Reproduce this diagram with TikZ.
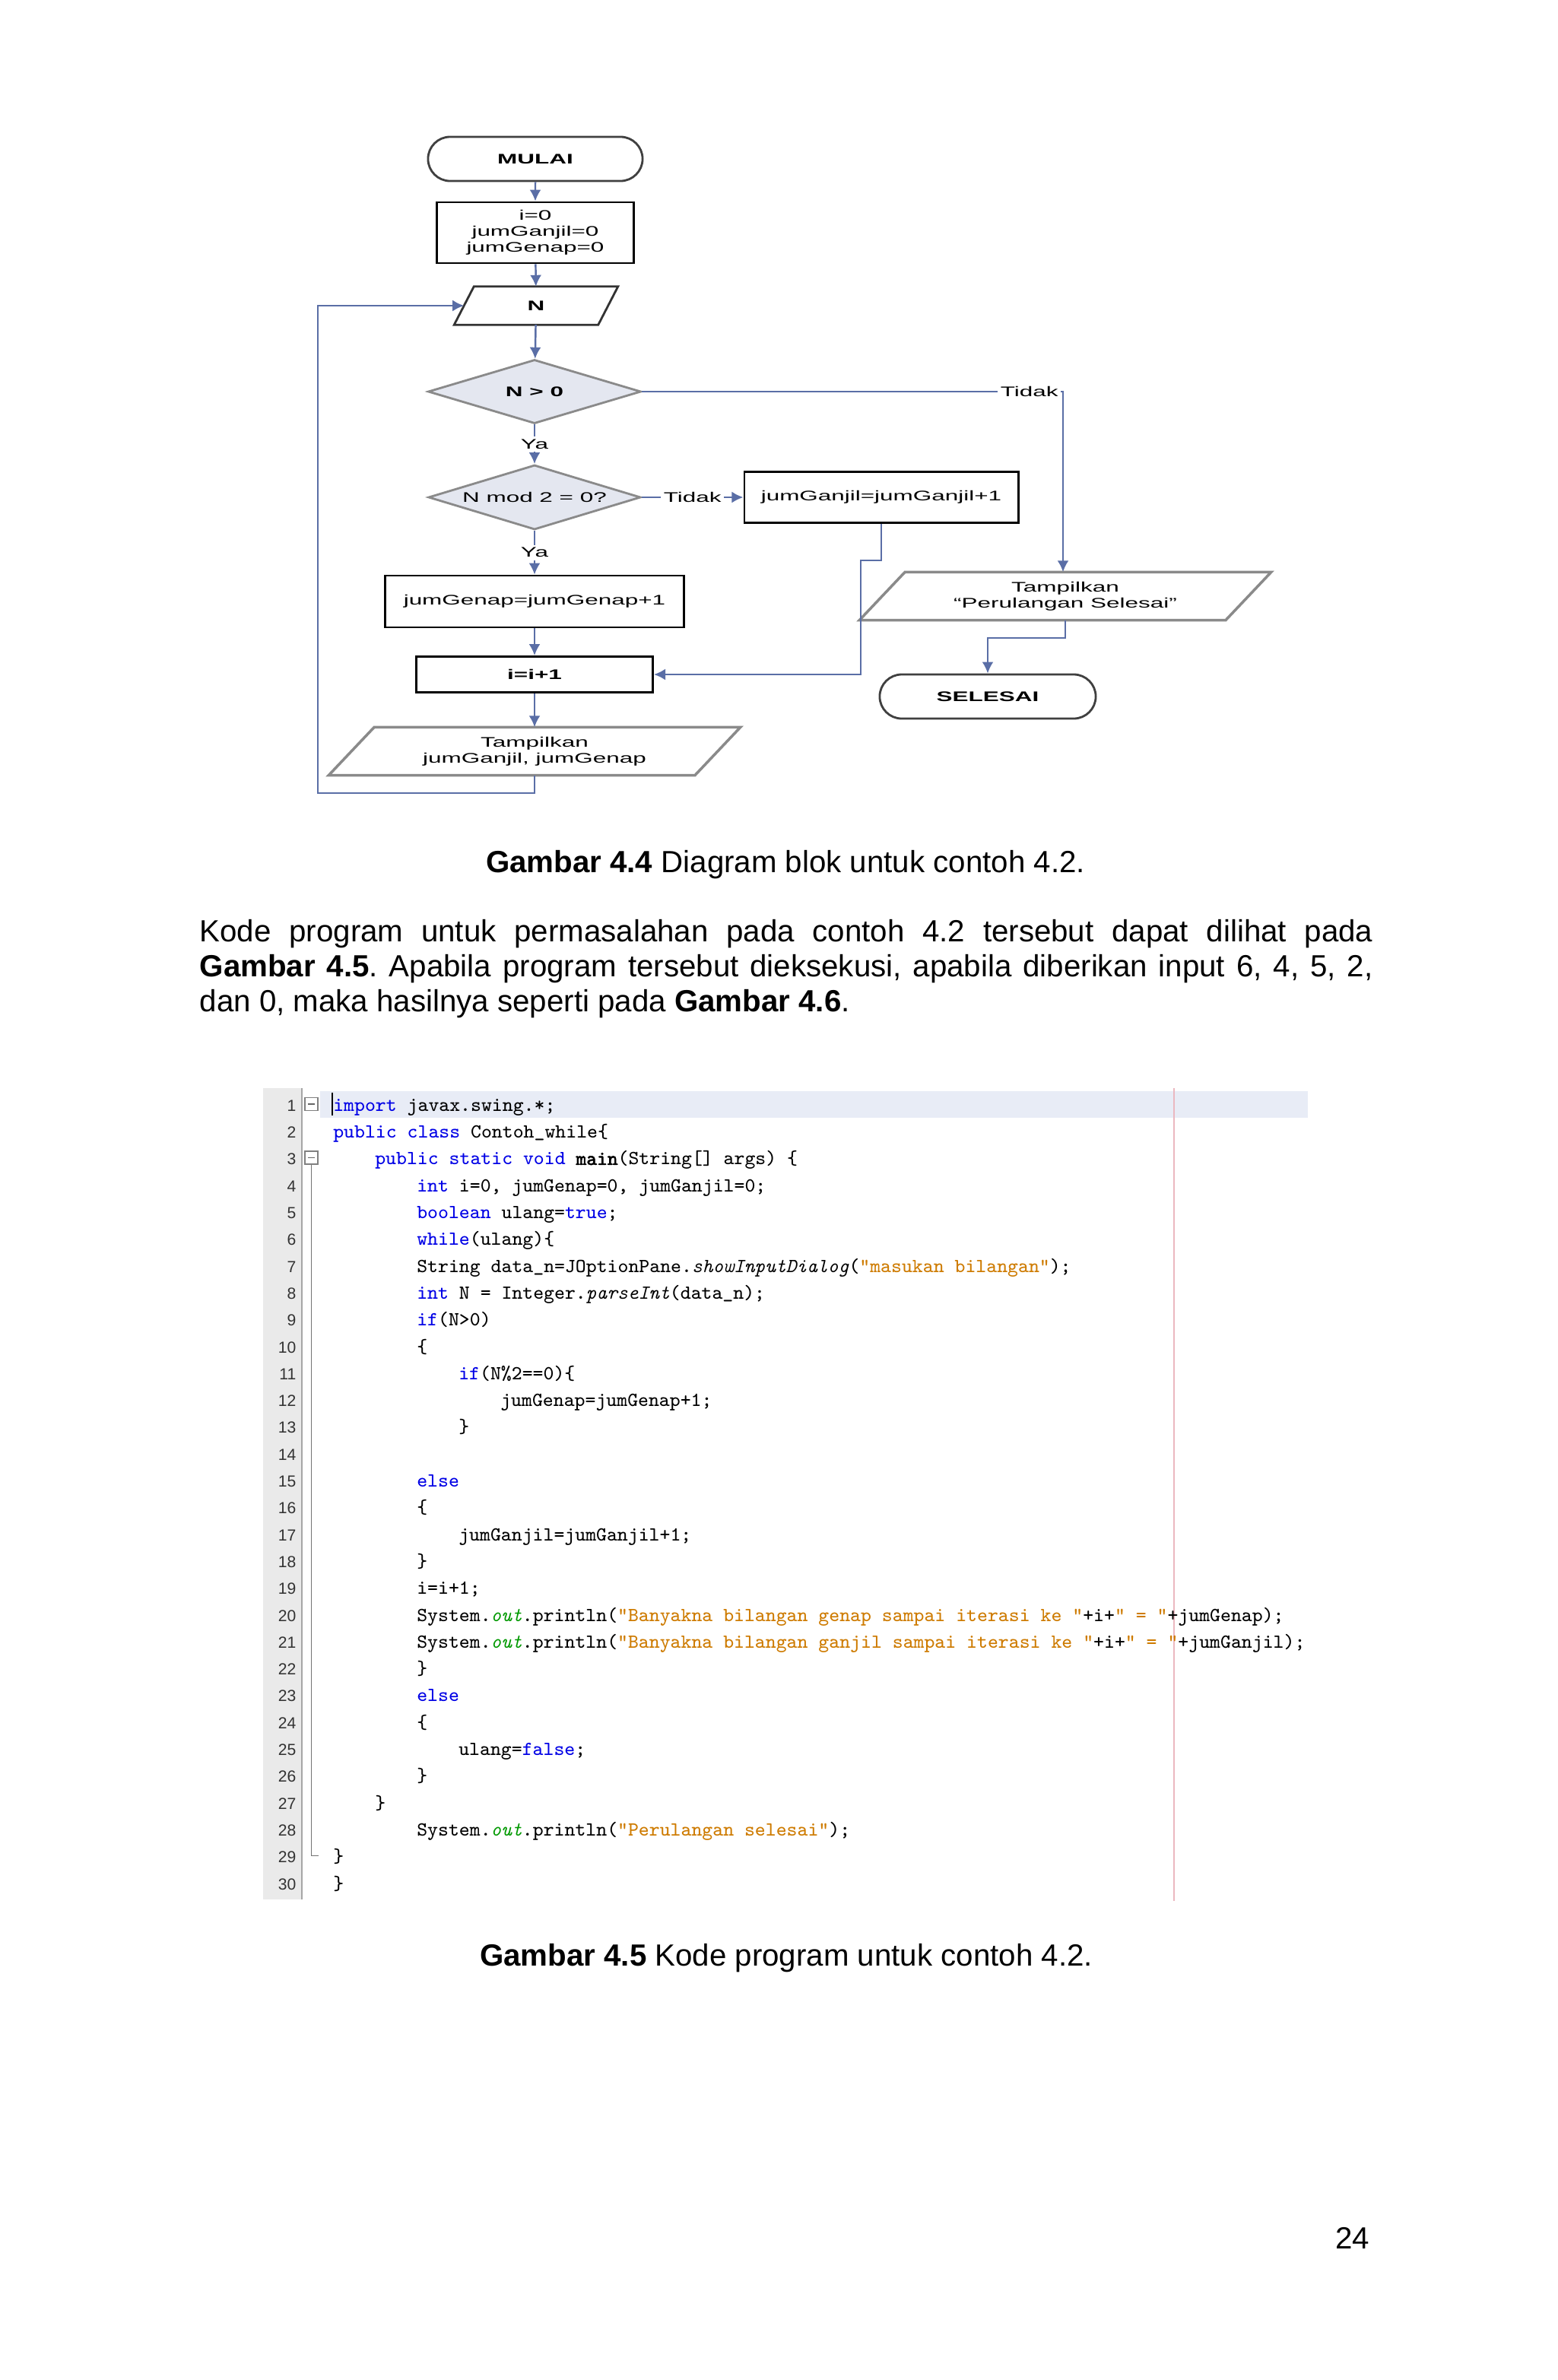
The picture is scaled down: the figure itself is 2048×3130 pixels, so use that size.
\documentclass[tikz,border=0pt]{standalone}
\usepackage{fontspec}
\setmainfont{Liberation Sans}
\newfontfamily\fcfont{Liberation Sans}[FakeStretch=1.72]
\newfontfamily\cdbold{lmmono10-regular.otf}[FakeBold=2.5]
\usetikzlibrary{shapes.geometric,shapes.misc,arrows.meta,calc}
\frenchspacing
\definecolor{conn}{HTML}{5A6EA6}
\definecolor{decfill}{HTML}{E4E7F0}
\definecolor{pgray}{HTML}{8A8A8A}
\definecolor{kwblue}{HTML}{0000E6}
\definecolor{strorange}{HTML}{CE7B00}
\definecolor{fldgreen}{HTML}{009900}
\definecolor{gutterbg}{HTML}{EAEAEA}
\definecolor{hlbg}{HTML}{E8ECF6}
\definecolor{marginred}{HTML}{EBB8C0}
\newcommand\kwd[1]{\textcolor{kwblue}{#1}}
\newcommand\strg[1]{\textcolor{strorange}{#1}}
\newcommand\fldg[1]{\textcolor{fldgreen}{\textit{#1}}}
\newcommand\fbld[1]{{\cdbold\fontsize{7.45pt}{8pt}\selectfont #1}}
\newcommand\cdln[3]{%
  \node[lnum] (ln#1) at (390,{1452+35.3*(#1-1)}) {#1};
  \node[code] (cl#1) at ({437.6+13.75*#2},{1452+35.3*(#1-1)}) {#3};}
\begin{document}
\begin{tikzpicture}[x=0.01cm,y=-0.01cm,
  fc/.style={font={\fcfont\fontsize{5.2pt}{5.9pt}\selectfont}, align=center, inner sep=0pt},
  box/.style={fc, rectangle, draw=black, line width=0.8pt},
  term/.style={fc, rounded rectangle, draw=black!75, line width=0.8pt},
  dec/.style={fc, diamond, aspect=3.3, draw=pgray, fill=decfill, line width=0.8pt},
  para/.style={fc, rectangle, draw=none},
  pbord/.style={draw=pgray, line width=1pt},
  arr/.style={draw=conn, line width=0.7pt, -{Latex[length=1.5mm,width=1.5mm]}},
  lab/.style={fc, fill=white, inner sep=1pt},
  body/.style={font={\fontsize{11.45pt}{13.1pt}\selectfont}, inner sep=0pt},
  code/.style={font={\ttfamily\fontsize{7.45pt}{8pt}\selectfont}, anchor=mid west, inner sep=0pt},
  lnum/.style={font={\fontsize{6pt}{7pt}\selectfont}, anchor=mid east, inner sep=0pt, text=black!80},
  fold/.style={draw=black!50, fill=white, line width=0.4pt, minimum size=0.17cm, inner sep=0pt}
]
\fill[white] (0,0) rectangle (2048,3130);
\useasboundingbox (0,0) rectangle (2048,3130);

% ---------- flowchart ----------
\node[term, minimum width=2.82cm, minimum height=0.58cm] (mulai) at (704,209) {\textbf{MULAI}};
\node[box, minimum width=2.59cm, minimum height=0.8cm] (init) at (704,306) {i=0\\jumGanjil=0\\jumGenap=0};
\node[para, minimum width=2.14cm, minimum height=0.49cm] (n) at (705,402) {\textbf{N}};
\draw[draw=black!80, line width=0.8pt] ([xshift=0.26cm]n.north west) -- (n.north east) -- ([xshift=-0.26cm]n.south east) -- (n.south west) -- cycle;
\coordinate (nleft) at ($(n.west)+(13,0)$);
\node[dec, minimum width=2.8cm, minimum height=0.84cm] (d1) at (703,515) {\textbf{N > 0}};
\node[dec, minimum width=2.79cm, minimum height=0.85cm] (d2) at (703,654) {N mod 2 = 0?};
\node[box, minimum width=3.6cm, minimum height=0.67cm] (g) at (1159,654) {jumGanjil=jumGanjil+1};
\node[box, minimum width=3.92cm, minimum height=0.68cm] (gp) at (703,791) {jumGenap=jumGenap+1};
\node[box, minimum width=3.11cm, minimum height=0.47cm] (ipp) at (703,887) {\textbf{i=i+1}};
\node[para, minimum width=5.4cm, minimum height=0.62cm] (p3) at (703,988) {Tampilkan\\jumGanjil, jumGenap};
\draw[pbord] ([xshift=0.6cm]p3.north west) -- (p3.north east) -- ([xshift=-0.6cm]p3.south east) -- (p3.south west) -- cycle;
\node[para, minimum width=5.4cm, minimum height=0.62cm] (p2) at (1401,784) {Tampilkan\\“Perulangan Selesai”};
\draw[pbord] ([xshift=0.6cm]p2.north west) -- (p2.north east) -- ([xshift=-0.6cm]p2.south east) -- (p2.south west) -- cycle;
\node[term, minimum width=2.84cm, minimum height=0.58cm] (sel) at (1299,916) {\textbf{SELESAI}};

\draw[arr] (mulai) -- (init);
\draw[arr] (init) -- (n);
\draw[arr] (n) -- (d1);
\draw[arr] (d1) -- node[lab]{Ya} (d2);
\draw[arr] (d2) -- node[lab]{Ya} (gp);
\draw[arr] (d2) -- node[lab]{Tidak} (g);
\draw[arr] (gp) -- (ipp);
\draw[arr] (ipp) -- (p3);
\coordinate (t1) at (1398,515);
\draw[arr] (d1.east) -- node[lab, pos=0.92]{Tidak} (t1) -- (t1 |- p2.north);
\coordinate (j1) at (1132,737);
\draw[arr] (g.south) |- (j1) -- (j1 |- ipp.east) -- (ipp.east);
\draw[arr] (p2.south) -- ++(0,23) -| (sel.north);
\coordinate (lp) at (418,402);
\draw[arr] (p3.south) -- ++(0,23) -| (lp) -- (nleft);

% ---------- caption and paragraph ----------
\node[body, anchor=base] (cap1) at (1033,1147) {\textbf{Gambar 4.4} Diagram blok untuk contoh 4.2.};
\node[body, anchor=base west] (para) at (262,1238) {\parbox[t]{15.42cm}{\fontsize{11.45pt}{13.1pt}\selectfont\frenchspacing
Kode program untuk permasalahan pada contoh 4.2 tersebut dapat dilihat pada\linebreak
\textbf{Gambar 4.5}. Apabila program tersebut dieksekusi, apabila diberikan input 6, 4, 5, 2,\linebreak
dan 0, maka hasilnya seperti pada \textbf{Gambar 4.6}.}};

% ---------- code panel ----------
\fill[gutterbg] (346,1431) rectangle (397,2498);
\draw[black!35, line width=0.5pt] (397,1431) -- (397,2498);
\fill[hlbg] (421,1434.5) rectangle (1720,1469.5);
\draw[marginred, line width=0.5pt] (1544,1431) -- (1544,2500);
\node[fold] (f1) at (409.5,1452) {};
\draw[black!60, line width=0.4pt] ([xshift=0.045cm]f1.west) -- ([xshift=-0.045cm]f1.east);
\node[fold] (f3) at (409.5,1522.6) {};
\draw[black!60, line width=0.4pt] ([xshift=0.045cm]f3.west) -- ([xshift=-0.045cm]f3.east);
\draw[black!55, line width=0.5pt] (f3.south) -- (409.5,2440.4) -- (418.5,2440.4);
\draw[black, line width=0.6pt] (437,1437) -- (437,1467);

\cdln{1}{0}{\kwd{import} javax.swing.*;}
\cdln{2}{0}{\kwd{public class} Contoh\_while\{}
\cdln{3}{4}{\kwd{public static void} \fbld{main}(String[] args) \{}
\cdln{4}{8}{\kwd{int} i=0, jumGenap=0, jumGanjil=0;}
\cdln{5}{8}{\kwd{boolean} ulang=\kwd{true};}
\cdln{6}{8}{\kwd{while}(ulang)\{}
\cdln{7}{8}{String data\_n=JOptionPane.\textit{showInputDialog}(\strg{"masukan bilangan"});}
\cdln{8}{8}{\kwd{int} N = Integer.\textit{parseInt}(data\_n);}
\cdln{9}{8}{\kwd{if}(N>0)}
\cdln{10}{8}{\{}
\cdln{11}{12}{\kwd{if}(N\%2==0)\{}
\cdln{12}{16}{jumGenap=jumGenap+1;}
\cdln{13}{12}{\}}
\node[lnum] (ln14) at (390,{1452+35.3*13}) {14};
\cdln{15}{8}{\kwd{else}}
\cdln{16}{8}{\{}
\cdln{17}{12}{jumGanjil=jumGanjil+1;}
\cdln{18}{8}{\}}
\cdln{19}{8}{i=i+1;}
\cdln{20}{8}{System.\fldg{out}.println(\strg{"Banyakna bilangan genap sampai iterasi ke "}+i+\strg{" = "}+jumGenap);}
\cdln{21}{8}{System.\fldg{out}.println(\strg{"Banyakna bilangan ganjil sampai iterasi ke "}+i+\strg{" = "}+jumGanjil);}
\cdln{22}{8}{\}}
\cdln{23}{8}{\kwd{else}}
\cdln{24}{8}{\{}
\cdln{25}{12}{ulang=\kwd{false};}
\cdln{26}{8}{\}}
\cdln{27}{4}{\}}
\cdln{28}{8}{System.\fldg{out}.println(\strg{"Perulangan selesai"});}
\cdln{29}{0}{\}}
\cdln{30}{0}{\}}

\node[body, anchor=base] (cap2) at (1034,2585) {\textbf{Gambar 4.5} Kode program untuk contoh 4.2.};
\node[body, anchor=base east] (pg) at (1802,2957) {24};
\end{tikzpicture}
\end{document}
